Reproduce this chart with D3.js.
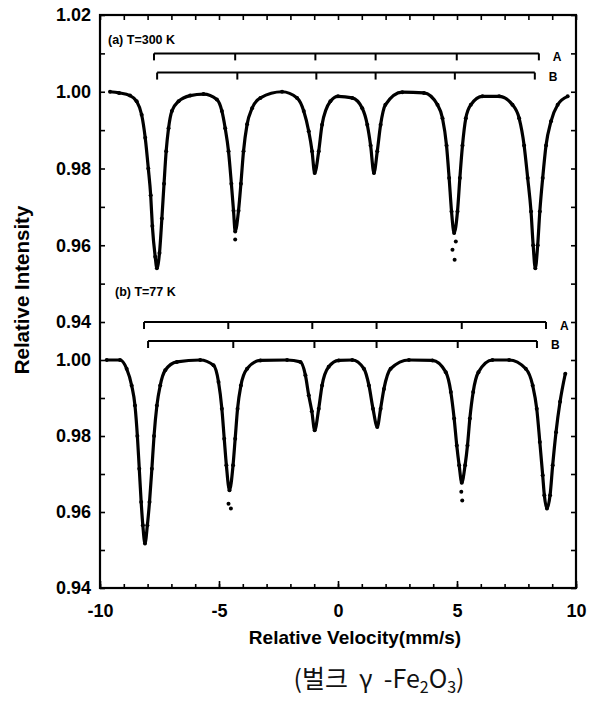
<!DOCTYPE html>
<html>
<head>
<meta charset="utf-8">
<script src="https://cdn.jsdelivr.net/npm/d3@7"></script>
<style>
  body { margin: 0; background: #fff; }
  svg { display: block; font-family: 'Liberation Sans', Arial, sans-serif; }
</style>
</head>
<body>
<svg width="590" height="704"></svg>
<script>
// (a) 300 K spectrum: velocity (mm/s) / relative intensity
const vel300 = [-9.58, -9.2, -8.74, -8.46, -8.25, -8.1, -7.97, -7.87, -7.8, -7.68, -7.61, -7.5, -7.4, -7.31, -7.22, -7.12, -6.98, -6.7, -6.21, -5.65,
  -5.09, -4.88, -4.74, -4.6, -4.48, -4.39, -4.32, -4.18, -4.08, -3.97, -3.82, -3.61, -3.26, -2.35, -1.72, -1.44, -1.23, -1.09, -0.98, -0.81,
  -0.67, -0.32, 0.0, 0.6, 1.02, 1.23, 1.37, 1.51, 1.65, 1.79, 1.99, 2.7, 3.61, 4.18, 4.39, 4.56, 4.67, 4.77, 4.88, 5.02,
  5.12, 5.23, 5.37, 5.58, 6.07, 6.77, 7.33, 7.61, 7.82, 7.97, 8.11, 8.2, 8.29, 8.39, 8.48, 8.6, 8.74, 8.95, 9.23, 9.65];
const int300 = [1.000, 0.9997, 0.999, 0.9975, 0.994, 0.988, 0.980, 0.973, 0.965, 0.957, 0.954, 0.958, 0.967, 0.976, 0.9845, 0.9905, 0.995, 0.9975, 0.999, 0.9994,
  0.998, 0.995, 0.9905, 0.9845, 0.976, 0.969, 0.9636, 0.969, 0.976, 0.9845, 0.9915, 0.9957, 0.9984, 1.000, 0.9984, 0.995, 0.9897, 0.9845, 0.9788, 0.9845,
  0.9914, 0.9975, 0.9988, 0.9984, 0.9957, 0.9914, 0.986, 0.9788, 0.9845, 0.9914, 0.9966, 0.9999, 0.9997, 0.9966, 0.9931, 0.986, 0.9775, 0.9688, 0.9632, 0.9688,
  0.9775, 0.986, 0.9931, 0.9966, 0.9988, 0.9988, 0.9966, 0.9931, 0.986, 0.9775, 0.9688, 0.960, 0.954, 0.960, 0.9688, 0.9775, 0.986, 0.9923, 0.9966, 0.9988];
// stray counts under the 300 K dips
const out300Vel = [-4.32, 4.81, 4.9, 4.95];
const out300Int = [0.9615, 0.9588, 0.9562, 0.961];

// (b) 77 K spectrum
const vel77 = [-9.72, -9.16, -8.88, -8.67, -8.53, -8.43, -8.35, -8.27, -8.2, -8.11, -8.01, -7.92, -7.82, -7.73, -7.61, -7.47, -7.26, -6.77, -5.79, -5.23,
  -5.02, -4.88, -4.78, -4.69, -4.56, -4.41, -4.32, -4.22, -4.08, -3.82, -3.26, -2.14, -1.58, -1.37, -1.23, -1.1, -0.98, -0.81, -0.67, -0.39,
  0.03, 0.6, 1.09, 1.3, 1.47, 1.65, 1.79, 1.93, 2.21, 2.98, 3.97, 4.53, 4.74, 4.88, 4.99, 5.09, 5.2, 5.34, 5.44, 5.54,
  5.68, 5.9, 6.49, 7.19, 7.89, 8.18, 8.35, 8.48, 8.6, 8.67, 8.78, 8.91, 9.02, 9.16, 9.33, 9.55];
const int77 = [1.000, 1.000, 0.9977, 0.9933, 0.988, 0.980, 0.9714, 0.9626, 0.9565, 0.9517, 0.9565, 0.9626, 0.9714, 0.980, 0.988, 0.9933, 0.9973, 0.9995, 1.000, 0.9986,
  0.9942, 0.9872, 0.9793, 0.9723, 0.9657, 0.9723, 0.9793, 0.9872, 0.9933, 0.9977, 0.9999, 1.000, 0.9995, 0.996, 0.9907, 0.9865, 0.9815, 0.9872, 0.9933, 0.9982,
  0.9999, 1.000, 0.9977, 0.9933, 0.9872, 0.9824, 0.9872, 0.9924, 0.9977, 1.000, 0.9999, 0.9968, 0.9916, 0.9846, 0.9775, 0.9723, 0.9677, 0.9723, 0.9775, 0.9846,
  0.9916, 0.9968, 1.000, 1.000, 0.9977, 0.9933, 0.9872, 0.9784, 0.9697, 0.9644, 0.9609, 0.9644, 0.9723, 0.981, 0.989, 0.9964];
const out77Vel = [-4.6, -4.5, 5.18, 5.22];
const out77Int = [0.9622, 0.9609, 0.9653, 0.963];

// sextet line positions (mm/s) for sites A and B
const lines300A = [-7.73, -4.32, -0.95, 1.58, 4.99, 8.44];
const lines300B = [-7.6, -4.23, -0.91, 1.58, 4.91, 8.27];
const lines77A = [-8.15, -4.61, -1.08, 1.62, 5.2, 8.74];
const lines77B = [-7.98, -4.4, -0.99, 1.62, 5.03, 8.36];

// ticks
const xLabels = [-10, -5, 0, 5, 10];
const xMinor = [-10, -9, -8, -7, -6, -5, -4, -3, -2, -1, 0, 1, 2, 3, 4, 5, 6, 7, 8, 9, 10];
const yTicks300 = [0.94, 0.95, 0.96, 0.97, 0.98, 0.99, 1.00, 1.01, 1.02];
const yTicks77 = [0.94, 0.95, 0.96, 0.97, 0.98, 0.99, 1.00];

const svg = d3.select('svg');
const frame = { left: 100, right: 576, top: 15, bottom: 588 };

//two stacked intensity scales share one frame
const x = d3.scaleLinear().domain([-10, 10]).range([frame.left, frame.right]);
const y300 = d3.scaleLinear().domain([0.94, 1.02]).range([322, frame.top]);
const y77 = d3.scaleLinear().domain([0.94, 1.00]).range([frame.bottom, 360]);

svg.append('rect').attr('width', 590).attr('height', 704).attr('fill', '#fff');

const evenLabel = d => (Math.round(d * 100) % 2 === 0 ? d3.format('.2f')(d) : '');

function styleAxis(g, size) {
  g.select('.domain').remove();
  g.selectAll('line').attr('stroke', '#000').attr('stroke-width', 1.6);
  g.selectAll('text')
    .attr('fill', '#000')
    .attr('font-family', "'Liberation Sans', Arial, sans-serif")
    .attr('font-weight', 'bold')
    .attr('font-size', size);
}

//left axes, ticks inward
svg.append('g')
  .attr('transform', 'translate(' + frame.left + ',0)')
  .call(d3.axisLeft(y300).tickValues(yTicks300).tickSize(-5).tickPadding(9).tickFormat(evenLabel))
  .call(styleAxis, 18);
svg.append('g')
  .attr('transform', 'translate(' + frame.left + ',0)')
  .call(d3.axisLeft(y77).tickValues(yTicks77).tickSize(-5).tickPadding(9).tickFormat(evenLabel))
  .call(styleAxis, 18);

//right axes, no labels
svg.append('g')
  .attr('transform', 'translate(' + frame.right + ',0)')
  .call(d3.axisRight(y300).tickValues(yTicks300).tickSize(-5).tickFormat(''))
  .call(styleAxis, 18);
svg.append('g')
  .attr('transform', 'translate(' + frame.right + ',0)')
  .call(d3.axisRight(y77).tickValues(yTicks77).tickSize(-5).tickFormat(''))
  .call(styleAxis, 18);

//top axis
svg.append('g')
  .attr('transform', 'translate(0,' + frame.top + ')')
  .call(d3.axisTop(x).tickValues(xMinor).tickSize(-5).tickFormat(''))
  .call(styleAxis, 18);

//bottom axis: minor every 1 mm/s, labelled every 5
svg.append('g')
  .attr('transform', 'translate(0,' + frame.bottom + ')')
  .call(d3.axisBottom(x).tickValues(xMinor).tickSize(-4).tickFormat(''))
  .call(styleAxis, 18);
svg.append('g')
  .attr('transform', 'translate(0,' + frame.bottom + ')')
  .call(d3.axisBottom(x).tickValues(xLabels).tickSize(-7).tickPadding(16).tickFormat(d => String(d)))
  .call(styleAxis, 18);

//frame
svg.append('rect')
  .attr('x', frame.left).attr('y', frame.top)
  .attr('width', frame.right - frame.left).attr('height', frame.bottom - frame.top)
  .attr('fill', 'none').attr('stroke', '#000').attr('stroke-width', 2.2);

//spectra: fitted line plus the counts on top
function drawSpectrum(vel, inten, outVel, outInt, yScale) {
  const pts = d3.zip(vel, inten);
  const line = d3.line()
    .x(d => x(d[0]))
    .y(d => yScale(d[1]))
    .curve(d3.curveMonotoneX);
  svg.append('path')
    .datum(pts)
    .attr('d', line)
    .attr('fill', 'none')
    .attr('stroke', '#000')
    .attr('stroke-width', 3.2)
    .attr('stroke-linejoin', 'round');
  svg.append('g')
    .selectAll('circle')
    .data(pts.concat(d3.zip(outVel, outInt)))
    .enter()
    .append('circle')
    .attr('cx', d => x(d[0]))
    .attr('cy', d => yScale(d[1]))
    .attr('r', 2)
    .attr('fill', '#000');
}
drawSpectrum(vel300, int300, out300Vel, out300Int, y300);
drawSpectrum(vel77, int77, out77Vel, out77Int, y77);

//stick diagrams for the two sextets
function drawSticks(lines, yScale, level, label) {
  const y0 = yScale(level);
  const g = svg.append('g');
  g.append('line')
    .attr('x1', x(lines[0])).attr('x2', x(lines[lines.length - 1]))
    .attr('y1', y0).attr('y2', y0)
    .attr('stroke', '#000').attr('stroke-width', 2);
  g.selectAll('.stick')
    .data(lines)
    .enter()
    .append('line')
    .attr('x1', d => x(d)).attr('x2', d => x(d))
    .attr('y1', y0).attr('y2', y0 + 7)
    .attr('stroke', '#000').attr('stroke-width', 2);
  g.append('text')
    .attr('x', x(lines[lines.length - 1]) + 14)
    .attr('y', y0 + 8)
    .attr('font-weight', 'bold')
    .attr('font-size', 12)
    .text(label);
}
drawSticks(lines300A, y300, 1.010, 'A');
drawSticks(lines300B, y300, 1.005, 'B');
drawSticks(lines77A, y77, 1.010, 'A');
drawSticks(lines77B, y77, 1.005, 'B');

//panel labels
svg.append('text')
  .attr('x', 108).attr('y', 44)
  .attr('font-weight', 'bold').attr('font-size', 12.5)
  .text('(a) T=300 K');
svg.append('text')
  .attr('x', 115).attr('y', 296)
  .attr('font-weight', 'bold').attr('font-size', 12.5)
  .text('(b) T=77 K');

//axis titles
svg.append('text')
  .attr('text-anchor', 'middle')
  .attr('transform', 'rotate(-90)')
  .attr('x', -290)
  .attr('y', 29)
  .attr('font-weight', 'bold')
  .attr('font-size', 20.5)
  .text('Relative Intensity');
svg.append('text')
  .attr('text-anchor', 'middle')
  .attr('x', 355)
  .attr('y', 644)
  .attr('font-weight', 'bold')
  .attr('font-size', 19)
  .text('Relative Velocity(mm/s)');

//caption under the chart
const cap = svg.append('text')
  .attr('text-anchor', 'middle')
  .attr('x', 379)
  .attr('y', 688)
  .style('white-space', 'pre')
  .attr('font-family', "'Noto Sans CJK KR', 'Noto Sans', sans-serif")
  .attr('font-size', 25)
  .attr('fill', '#111');
cap.append('tspan').text('(벌크  γ  -Fe');
cap.append('tspan').attr('font-size', 16).attr('dy', 5).text('2');
cap.append('tspan').attr('dy', -5).text('O');
cap.append('tspan').attr('font-size', 16).attr('dy', 5).text('3');
cap.append('tspan').attr('dy', -5).text(')');
</script>
</body>
</html>
